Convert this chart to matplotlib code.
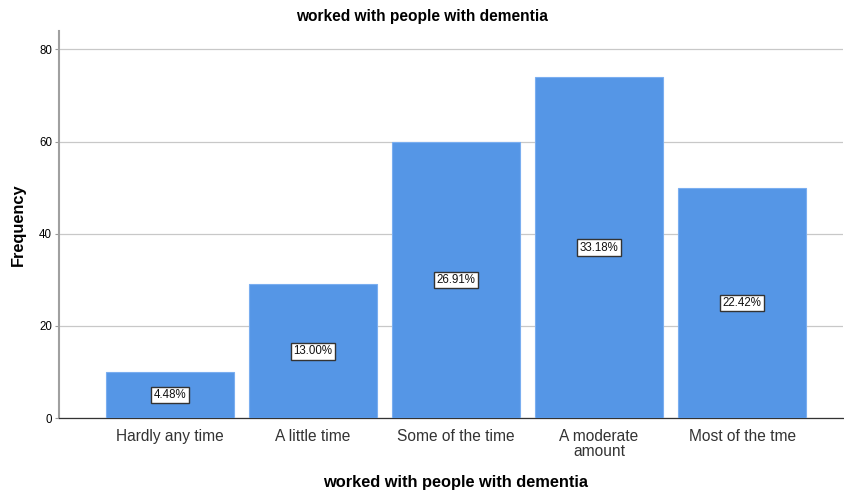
import numpy as np
import matplotlib
matplotlib.use("Agg")
import matplotlib.pyplot as plt

## data
categories = ["Hardly any time", "A little time", "Some of the time",
              "A moderate\namount", "Most of the tme"]
counts = [10, 29, 60, 74, 50]
percents = ["4.48%", "13.00%", "26.91%", "33.18%", "22.42%"]
title = "worked with people with dementia"

plt.rcParams["font.family"] = ["Liberation Sans", "DejaVu Sans"]

## figure
fig = plt.figure(figsize=(8.44, 4.93), dpi=100)
ax = fig.add_axes([0.0699, 0.152, 0.929, 0.785])

x = np.arange(len(categories))
ax.bar(x, counts, width=0.9, color="#5596e6", edgecolor="#7aaef0",
       linewidth=0.8, zorder=3)

# percent labels in the middle of each bar
for xi, c, p in zip(x, counts, percents):
    ax.text(xi, c / 2, p, ha="center", va="center", fontsize=8.3, zorder=4,
            color="#111111",
            bbox=dict(boxstyle="square,pad=0.2", fc="white", ec="#333333", lw=1.0))

ax.set_xlim(-0.776, 4.706)
ax.set_ylim(0, 84)
ax.set_yticks([0, 20, 40, 60, 80])
ax.set_xticks(x)
ax.set_xticklabels(categories, fontsize=11.2, color="#333333", linespacing=0.95)
ax.tick_params(axis="x", length=0, pad=8)
ax.tick_params(axis="y", length=3, width=0.8, color="#999999", labelsize=8.3, pad=2)
ax.yaxis.grid(True, color="#c8c8c8", linewidth=0.9, zorder=0)

for s in ["top", "right"]:
    ax.spines[s].set_visible(False)
ax.spines["left"].set_color("#a0a0a0")
ax.spines["left"].set_linewidth(1.5)
ax.spines["bottom"].set_color("#333333")
ax.spines["bottom"].set_linewidth(0.9)

fig.suptitle(title, x=0.5, y=1 - 17 / 493, va="center",
             fontsize=11.2, fontweight="bold")
fig.text(456 / 844, 1 - 483 / 493, title, ha="center", va="center",
         fontsize=11.8, fontweight="bold")
fig.text(18 / 844, 0.5 + 0.5 * (493 - 2 * 225) / 493, "Frequency", rotation=90,
         ha="center", va="center", fontsize=11.8, fontweight="bold")

fig.savefig("out.png", dpi=100)
